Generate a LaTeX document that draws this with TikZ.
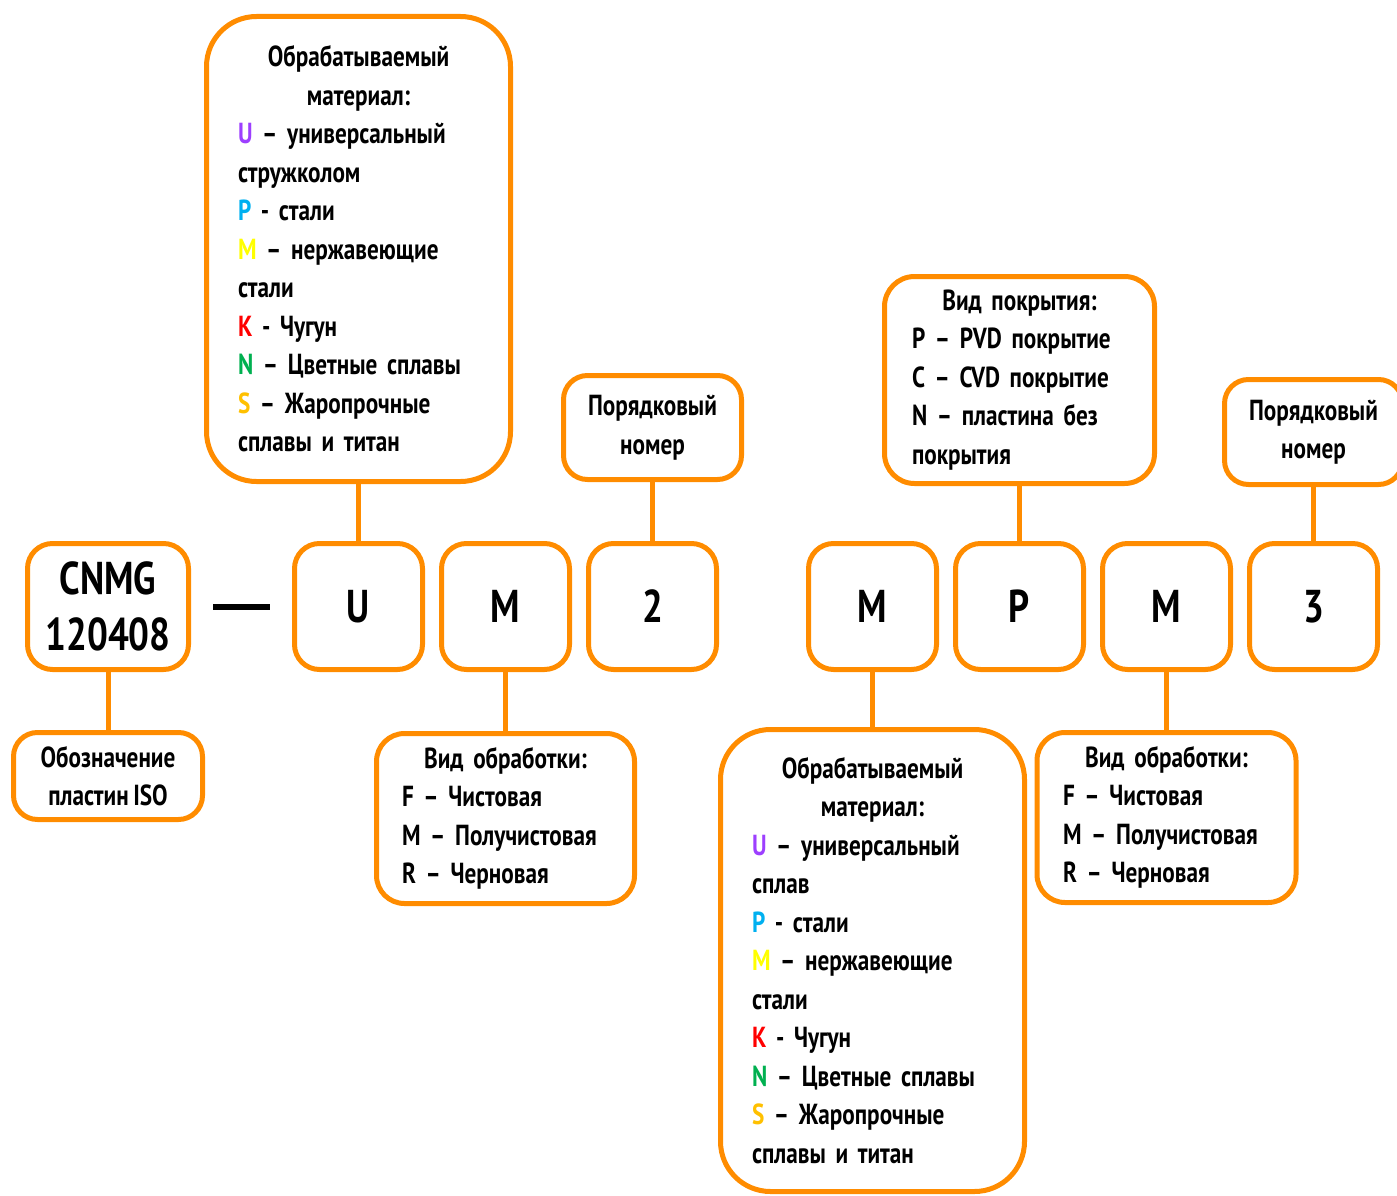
\documentclass[tikz,border=0pt]{standalone}
\usepackage{fontspec}
\setmainfont{PT Sans}[FakeStretch=0.8]
\usepackage{xcolor}
\usetikzlibrary{positioning,calc}
\definecolor{isoorange}{HTML}{FF8C00}
\definecolor{matU}{HTML}{9D3FFF}
\definecolor{matP}{HTML}{00B0F0}
\definecolor{matM}{HTML}{FFFF00}
\definecolor{matK}{HTML}{FF0000}
\definecolor{matN}{HTML}{00B050}
\definecolor{matS}{HTML}{FFC000}
\newcommand\notefont{\fontsize{29}{38.5}\selectfont\bfseries\fontdimen2\font=4.5pt\relax}
\tikzset{
  codebox/.style={
    rectangle, rounded corners=25pt, draw=isoorange, line width=5pt,
    minimum width=128pt, minimum height=126pt, inner sep=0pt,
    font=\fontsize{46}{56}\selectfont\bfseries
  },
  notebox/.style={
    rectangle, rounded corners=#1, draw=isoorange, line width=5pt,
    inner sep=0pt, font=\notefont
  },
  notebox/.default=24pt,
  linkline/.style={isoorange, line width=5pt}
}
\begin{document}
\begin{tikzpicture}[x=1pt, y=-1pt, node distance=14pt]
\useasboundingbox (0,0) rectangle (1397,1196);
% code row
\node[codebox, minimum width=161pt, align=center] (cnmg) at (108,606.5) {CNMG\\120408};
\node[codebox, right=101pt of cnmg] (u) {U};
\node[codebox, right=of u] (m1) {M};
\node[codebox, right=of m1] (n2) {2};
\node[codebox, right=87pt of n2] (m2) {M};
\node[codebox, right=of m2] (p) {P};
\node[codebox, right=of p] (m3) {M};
\node[codebox, right=of m3] (n3) {3};
\node[inner sep=0pt] (dash) at ($(cnmg.east)!0.5!(u.west)$) {\rule{57pt}{6pt}};

% notes
\node[notebox, minimum width=189pt, minimum height=87pt, align=center, below=58pt of cnmg] (iso) {Обозначение\\пластин ISO};
\node[notebox=50pt, minimum width=304pt, minimum height=465pt, text width=241pt, align=left, above=57pt of u] (mat1) {%
  {\centering Обрабатываемый\\материал:\par}
  \textcolor{matU}{U} – универсальный\\стружколом\\
  \textcolor{matP}{P} - стали\\
  \textcolor{matM}{M} – нержавеющие\\стали\\
  \textcolor{matK}{K} - Чугун\\
  \textcolor{matN}{N} – Цветные сплавы\\
  \textcolor{matS}{S} – Жаропрочные\\сплавы и титан};
\node[notebox=28pt, minimum width=258pt, minimum height=170pt, text width=207pt, align=left, below=59pt of m1] (proc1) {%
  {\centering Вид обработки:\par}
  F – Чистовая\\M – Получистовая\\R – Черновая};
\node[notebox, minimum width=178pt, minimum height=104pt, align=center, above=59pt of n2] (num1) {Порядковый\\номер};
\node[notebox=50pt, minimum width=304pt, minimum height=462pt, text width=241pt, align=left, below=55pt of m2] (mat2) {%
  {\centering Обрабатываемый\\материал:\par}
  \textcolor{matU}{U} – универсальный\\сплав\\
  \textcolor{matP}{P} - стали\\
  \textcolor{matM}{M} – нержавеющие\\стали\\
  \textcolor{matK}{K} - Чугун\\
  \textcolor{matN}{N} – Цветные сплавы\\
  \textcolor{matS}{S} – Жаропрочные\\сплавы и титан};
\node[notebox=30pt, minimum width=270pt, minimum height=207pt, text width=215pt, align=left, above=55pt of p] (coat) {%
  {\centering Вид покрытия:\par}
  P – PVD покрытие\\C – CVD покрытие\\N – пластина без\\покрытия};
\node[notebox=28pt, minimum width=259pt, minimum height=170pt, text width=207pt, align=left, below=58pt of m3] (proc2) {%
  {\centering Вид обработки:\par}
  F – Чистовая\\M – Получистовая\\R – Черновая};
\node[notebox, minimum width=178pt, minimum height=105pt, align=center, above=54pt of n3] (num2) {Порядковый\\номер};

% links
\draw[linkline] (cnmg) -- (iso);
\draw[linkline] (u) -- (mat1);
\draw[linkline] (m1) -- (proc1);
\draw[linkline] (n2) -- (num1);
\draw[linkline] (m2) -- (mat2);
\draw[linkline] (p) -- (coat);
\draw[linkline] (m3) -- (proc2);
\draw[linkline] (n3) -- (num2);
\end{tikzpicture}
\end{document}
